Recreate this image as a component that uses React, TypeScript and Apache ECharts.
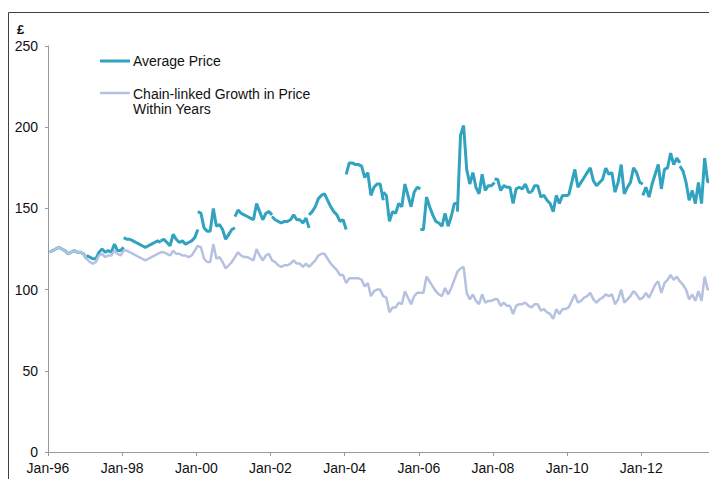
import React, { useEffect, useRef } from "react";
import * as echarts from "echarts";

// Years covered (one row of monthly values per year, Jan..Dec)
const years = [1996, 1997, 1998, 1999, 2000, 2001, 2002, 2003, 2004, 2005, 2006, 2007, 2008, 2009, 2010, 2011, 2012, 2013];

// Average Price (£), monthly, each year a separate segment
const avgPrice: number[][] = [
  [123, 124, 125, 126, 125, 124, 122, 123, 124, 123, 123, 122],
  [121, 120, 119, 119, 123, 125, 123, 124, 123, 128, 124, 124],
  [132, 131, 131, 130, 129, 128, 127, 126, 127, 128, 129, 130],
  [130, 131, 129, 127, 134, 131, 129, 130, 128, 129, 130, 132],
  [148, 147, 138, 136, 136, 150, 139, 140, 137, 131, 134, 137],
  [145, 149, 147, 146, 145, 144, 143, 153, 148, 143, 147, 148],
  [145, 143, 142, 141, 142, 142, 143, 146, 143, 143, 141, 144],
  [146, 148, 151, 156, 158, 159, 155, 151, 148, 146, 142, 143],
  [171, 178, 178, 177, 177, 176, 169, 172, 158, 163, 165, 165],
  [160, 158, 142, 148, 147, 153, 151, 165, 158, 151, 160, 163],
  [137, 137, 157, 151, 146, 142, 141, 139, 147, 139, 145, 153],
  [148, 195, 201, 174, 165, 172, 163, 159, 171, 161, 164, 164],
  [168, 168, 161, 164, 163, 163, 153, 162, 163, 162, 165, 160],
  [160, 164, 164, 157, 158, 155, 153, 148, 158, 153, 158, 158],
  [158, 166, 174, 163, 166, 169, 172, 175, 167, 164, 166, 168],
  [175, 171, 172, 160, 166, 177, 159, 163, 166, 175, 172, 166],
  [158, 163, 157, 165, 171, 177, 162, 174, 175, 184, 177, 181],
  [176, 173, 166, 155, 161, 153, 166, 153, 181, 166, 168, 170],
];

// Value each year's segment reaches at the following January
const avgPriceNextJan = [119, 126, 129, 137, 138, 146, 138, 137, 155, 162, 153, 166, 160, 158, 175, 165, 178];

// Chain-linked Growth in Price Within Years, monthly
const chainLinked: number[][] = [
  [123, 124, 125, 126, 125, 124, 122, 123, 124, 123, 123, 122],
  [119, 117, 116, 117, 121, 122, 120, 121, 121, 124, 122, 121],
  [124, 124, 123, 122, 121, 120, 119, 118, 119, 120, 121, 122],
  [123, 123, 122, 121, 124, 122, 122, 121, 121, 120, 121, 124],
  [127, 126, 119, 117, 117, 128, 119, 120, 117, 113, 115, 117],
  [120, 123, 121, 120, 120, 119, 118, 125, 121, 118, 121, 122],
  [118, 117, 115, 114, 115, 115, 116, 118, 116, 116, 114, 116],
  [114, 116, 118, 121, 122, 122, 119, 116, 114, 112, 109, 109],
  [104, 107, 107, 107, 107, 106, 102, 104, 96, 99, 100, 100],
  [96, 95, 86, 89, 89, 92, 91, 99, 95, 91, 96, 98],
  [98, 98, 108, 105, 102, 99, 97, 96, 101, 97, 101, 106],
  [111, 113, 114, 98, 94, 97, 93, 91, 97, 92, 93, 93],
  [94, 94, 90, 92, 90, 90, 85, 90, 91, 91, 92, 90],
  [89, 91, 91, 87, 88, 86, 85, 82, 88, 85, 88, 88],
  [89, 93, 97, 92, 93, 95, 96, 98, 94, 92, 94, 95],
  [97, 96, 97, 91, 94, 100, 92, 94, 96, 99, 97, 94],
  [95, 98, 95, 99, 103, 105, 98, 104, 106, 109, 106, 108],
  [105, 103, 100, 94, 97, 93, 99, 93, 108, 100, 101, 102],
];

const yTicks = [0, 50, 100, 150, 200, 250];
const seriesNames = ["Average Price", "Chain-linked Growth in Price\nWithin Years"];

const TEAL = "#31A2BF";
const LIGHT = "#B5C1E0";
const FONT = "'Liberation Sans', Arial, sans-serif";

function buildAvg() {
  const out: (number | string)[][] = [];
  years.forEach((_, i) => {
    avgPrice[i].forEach((v, k) => out.push([i * 12 + k + 0.5, v]));
    if (i < avgPriceNextJan.length) out.push([(i + 1) * 12 + 0.5, avgPriceNextJan[i]]);
    out.push([(i + 1) * 12 + 0.5, "-"]);
  });
  return out;
}

function buildChain() {
  const out: number[][] = [];
  years.forEach((_, i) => {
    chainLinked[i].forEach((v, k) => out.push([i * 12 + k + 0.5, v]));
  });
  return out;
}

export default function App() {
  const ref = useRef<HTMLDivElement>(null);
  useEffect(() => {
    if (!ref.current) return;
    const chart = echarts.init(ref.current, null, { renderer: "svg" });
    const months = years.length * 12;
    chart.setOption({
      animation: false,
      backgroundColor: "#ffffff",
      textStyle: { fontFamily: FONT },
      grid: { left: 48, top: 46, width: months * 3.09, height: 406 },
      xAxis: {
        type: "value",
        min: 0,
        max: months,
        interval: 24,
        axisLine: { show: true, lineStyle: { color: "#9a9a9a", width: 1 } },
        axisTick: { show: true, length: 4, lineStyle: { color: "#9a9a9a" } },
        splitLine: { show: false },
        axisLabel: {
          color: "#111",
          fontSize: 14,
          margin: 9,
          fontFamily: FONT,
          showMaxLabel: false,
          formatter: (v: number) => {
            if (v >= months) return "";
            const yr = years[0] + v / 12;
            return "Jan-" + String(yr % 100).padStart(2, "0");
          },
        },
      },
      yAxis: {
        type: "value",
        min: yTicks[0],
        max: yTicks[yTicks.length - 1],
        interval: yTicks[1] - yTicks[0],
        axisLine: { show: true, lineStyle: { color: "#9a9a9a", width: 1 } },
        axisTick: { show: true, length: 3, lineStyle: { color: "#9a9a9a" } },
        splitLine: { show: false },
        axisLabel: { color: "#111", fontSize: 14, margin: 10, fontFamily: FONT },
      },
      series: [
        {
          name: seriesNames[0],
          type: "line",
          data: buildAvg(),
          showSymbol: false,
          symbol: "none",
          connectNulls: false,
          lineStyle: { color: TEAL, width: 3 },
          itemStyle: { color: TEAL },
          z: 2,
        },
        {
          name: seriesNames[1],
          type: "line",
          data: buildChain(),
          showSymbol: false,
          symbol: "none",
          lineStyle: { color: LIGHT, width: 2.5 },
          itemStyle: { color: LIGHT },
          z: 3,
        },
      ],
      graphic: [
        {
          type: "rect",
          shape: { x: 8.5, y: 12.5, width: 900, height: 700 },
          style: { fill: "none", stroke: "#404040", lineWidth: 1 },
          silent: true,
        },
        {
          type: "text",
          x: 17,
          y: 29,
          style: { text: "£", fill: "#111", font: "bold 13px " + FONT, verticalAlign: "middle" },
        },
        {
          type: "line",
          shape: { x1: 100, y1: 61, x2: 130, y2: 61 },
          style: { stroke: TEAL, lineWidth: 3 },
        },
        {
          type: "text",
          x: 133,
          y: 61,
          style: { text: seriesNames[0], font: "14px " + FONT, fill: "#111", verticalAlign: "middle" },
        },
        {
          type: "line",
          shape: { x1: 100, y1: 93, x2: 130, y2: 93 },
          style: { stroke: LIGHT, lineWidth: 2.5 },
        },
        {
          type: "text",
          x: 133,
          y: 86.5,
          style: { text: seriesNames[1], font: "14px " + FONT, fill: "#111", lineHeight: 15, verticalAlign: "top" },
        },
      ],
    });
    return () => chart.dispose();
  }, []);
  return (
    <div style={{ position: "fixed", left: 0, top: 0, width: 709, height: 479, overflow: "hidden", background: "#fff" }}>
      <div ref={ref} style={{ position: "absolute", left: 0, top: 0, width: 730, height: 500 }} />
    </div>
  );
}
